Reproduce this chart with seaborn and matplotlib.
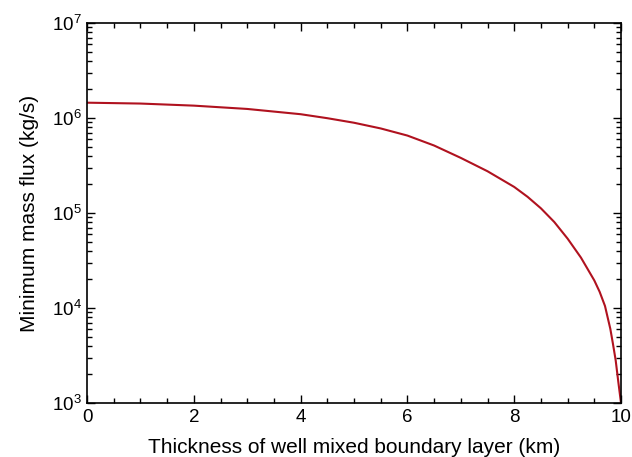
import matplotlib
matplotlib.use("Agg")
import matplotlib.pyplot as plt
import numpy as np
import pandas as pd
import seaborn as sns
from matplotlib.ticker import LogLocator, MultipleLocator, NullFormatter

# Values
thickness_km = [0.0, 1.0, 2.0, 3.0, 4.0, 4.5, 5.0, 5.5, 6.0, 6.5, 7.0, 7.5,
                8.0, 8.25, 8.5, 8.75, 9.0, 9.25, 9.5, 9.6, 9.7, 9.8, 9.85,
                9.9, 9.95, 10.0]
mass_flux = [1.449e6, 1.419e6, 1.349e6, 1.245e6, 1.096e6, 9.95e5, 8.91e5,
             7.76e5, 6.53e5, 5.13e5, 3.80e5, 2.75e5, 1.88e5, 1.48e5, 1.12e5,
             8.04e4, 5.37e4, 3.39e4, 1.95e4, 1.48e4, 1.05e4, 6.03e3, 4.17e3,
             2.82e3, 1.66e3, 1.0e3]

x_label = "Thickness of well mixed boundary layer (km)"
y_label = "Minimum mass flux (kg/s)"
line_color = "#b0121f"

sns.set_style("ticks")
plt.rcParams["font.family"] = ["Liberation Sans", "DejaVu Sans"]
plt.rcParams["mathtext.default"] = "regular"
plt.rcParams["text.color"] = "black"
plt.rcParams["axes.labelcolor"] = "black"
plt.rcParams["xtick.color"] = "black"
plt.rcParams["ytick.color"] = "black"

df = pd.DataFrame({"x": thickness_km, "y": mass_flux})

fig = plt.figure(figsize=(6.32, 4.57), dpi=100)
ax = fig.add_axes([0.1377, 0.1182, 0.9826 - 0.1377, 0.9497 - 0.1182])
sns.lineplot(data=df, x="x", y="y", ax=ax, color=line_color, linewidth=1.5)

ax.set_yscale("log")
ax.set_xlim(0, 10)
ax.set_ylim(1e3, 1e7)
ax.xaxis.set_major_locator(MultipleLocator(2))
ax.xaxis.set_minor_locator(MultipleLocator(0.5))
ax.yaxis.set_major_locator(LogLocator(base=10, numticks=10))
ax.yaxis.set_minor_locator(LogLocator(base=10, subs=np.arange(2, 10), numticks=10))
ax.yaxis.set_minor_formatter(NullFormatter())

ax.tick_params(which="both", direction="in", top=True, right=True,
               labelsize=13.5, color="black", labelcolor="black", width=1)
ax.tick_params(which="major", length=6, pad=4)
ax.tick_params(which="minor", length=3.5)
for sp in ax.spines.values():
    sp.set_linewidth(1.2)
    sp.set_color("black")

ax.set_xlabel(x_label, fontsize=15, labelpad=9, color="black")
ax.set_ylabel(y_label, fontsize=15, labelpad=9, color="black")

fig.savefig("out.png", dpi=100)
